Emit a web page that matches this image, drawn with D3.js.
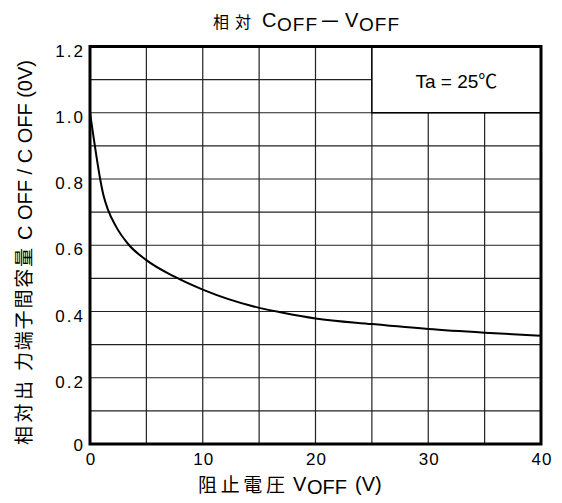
<!DOCTYPE html>
<html>
<head>
<meta charset="utf-8">
<script src="https://cdn.jsdelivr.net/npm/d3@7"></script>
<style>
  body { margin: 0; background: #fff; }
  svg text { font-family: "Liberation Sans", Arial, "Noto Sans CJK JP", sans-serif; fill: #000; }
  .cjk { font-family: "Noto Sans CJK JP", sans-serif; }
</style>
</head>
<body>
<svg width="562" height="503"></svg>
<script>
// Data
const voltages = [0, 0.3, 0.6, 0.9, 1.2, 1.6, 2.3, 3.4, 5, 7.5, 10, 15, 17, 20, 25, 30, 35, 40];
const ratios = [1.0, 0.93, 0.862, 0.8, 0.75, 0.707, 0.657, 0.603, 0.555, 0.505, 0.466, 0.411, 0.397, 0.379, 0.362, 0.347, 0.336, 0.327];
const xTicks = [0, 10, 20, 30, 40];
const yTicks = [0, 0.2, 0.4, 0.6, 0.8, 1.0, 1.2];
const xGrid = d3.range(0, 41, 5);
const yGrid = d3.range(0, 1.21, 0.1);

const data = voltages.map((v, i) => ({ v: v, c: ratios[i] }));

// Plot area
const margin = { top: 46.5, right: 21, bottom: 59, left: 90 };
const width = 562 - margin.left - margin.right;
const height = 503 - margin.top - margin.bottom;

const svg = d3.select("svg");
const g = svg.append("g")
    .attr("transform", `translate(${margin.left},${margin.top})`);

const x = d3.scaleLinear().domain([0, 40]).range([0, width]);
const y = d3.scaleLinear().domain([0, 1.2]).range([height, 0]);

// Grid
g.selectAll(".vgrid")
    .data(xGrid)
  .enter().append("line")
    .attr("x1", d => x(d)).attr("x2", d => x(d))
    .attr("y1", 0).attr("y2", height)
    .attr("stroke", "#222").attr("stroke-width", 1.2);

g.selectAll(".hgrid")
    .data(yGrid)
  .enter().append("line")
    .attr("x1", 0).attr("x2", width)
    .attr("y1", d => y(d)).attr("y2", d => y(d))
    .attr("stroke", "#222").attr("stroke-width", 1.2);

// Legend box covers the top right cells
g.append("rect")
    .attr("x", x(25)).attr("y", y(1.2))
    .attr("width", x(40) - x(25)).attr("height", y(1.0) - y(1.2))
    .attr("fill", "#fff").attr("stroke", "#000").attr("stroke-width", 1.5);

g.append("text")
    .attr("x", (x(25) + x(40)) / 2)
    .attr("y", (y(1.0) + y(1.2)) / 2 + 8)
    .attr("text-anchor", "middle")
    .style("font-size", "19px")
    .text("Ta = 25℃");

// Curve
const line = d3.line()
    .x(d => x(d.v))
    .y(d => y(d.c))
    .curve(d3.curveMonotoneX);

g.append("path")
    .datum(data)
    .attr("d", line)
    .attr("fill", "none")
    .attr("stroke", "#000")
    .attr("stroke-width", 2);

// Frame
g.append("rect")
    .attr("width", width).attr("height", height)
    .attr("fill", "none").attr("stroke", "#000").attr("stroke-width", 3);

// Tick labels
g.selectAll(".xt")
    .data(xTicks)
  .enter().append("text")
    .attr("x", d => x(d) + 1)
    .attr("y", height + 21)
    .attr("text-anchor", "middle")
    .style("font-size", "17px")
    .style("letter-spacing", "1px")
    .text(d => d);

g.selectAll(".yt")
    .data(yTicks)
  .enter().append("text")
    .attr("x", -5)
    .attr("y", d => y(d) + (d === 0 ? 7 : 10))
    .attr("text-anchor", "end")
    .style("font-size", "17px")
    .style("letter-spacing", "2px")
    .text(d => d === 0 ? "0" : d.toFixed(1));

// Title
const title = svg.append("g");
title.append("text").attr("class", "cjk").attr("x", 213).attr("y", 28)
    .style("font-size", "16px").text("相");
title.append("text").attr("class", "cjk").attr("x", 235).attr("y", 28)
    .style("font-size", "16px").text("対");
title.append("text").attr("x", 262).attr("y", 27)
    .style("font-size", "20px").text("C");
title.append("text").attr("x", 277).attr("y", 31)
    .style("font-size", "19px").style("letter-spacing", "1px").text("OFF");
title.append("text").attr("class", "cjk").attr("x", 319).attr("y", 29)
    .style("font-size", "22px").text("－");
title.append("text").attr("x", 345).attr("y", 27)
    .style("font-size", "20px").text("V");
title.append("text").attr("x", 359).attr("y", 31)
    .style("font-size", "19px").style("letter-spacing", "1px").text("OFF");

// X axis label
const xl = svg.append("g");
xl.append("text").attr("class", "cjk").attr("x", 198).attr("y", 492)
    .style("font-size", "19px").attr("textLength", 87).text("阻止電圧");
xl.append("text").attr("x", 293).attr("y", 491)
    .style("font-size", "20px").text("V");
xl.append("text").attr("x", 307).attr("y", 493.5)
    .style("font-size", "20px").text("OFF");
xl.append("text").attr("x", 355).attr("y", 491)
    .style("font-size", "20px").text("(V)");

// Y axis label (reads bottom to top)
const yl = svg.append("g").attr("transform", "translate(32,445) rotate(-90)");
yl.append("text").attr("class", "cjk").attr("x", 0).attr("y", -1)
    .style("font-size", "19px").attr("textLength", 64).text("相対出");
yl.append("text").attr("class", "cjk").attr("x", 74).attr("y", -1)
    .style("font-size", "19px").attr("textLength", 123).text("力端子間容量");
yl.append("text").attr("x", 205).attr("y", 0)
    .style("font-size", "20px").text("C OFF / C OFF (0V)");
</script>
</body>
</html>
